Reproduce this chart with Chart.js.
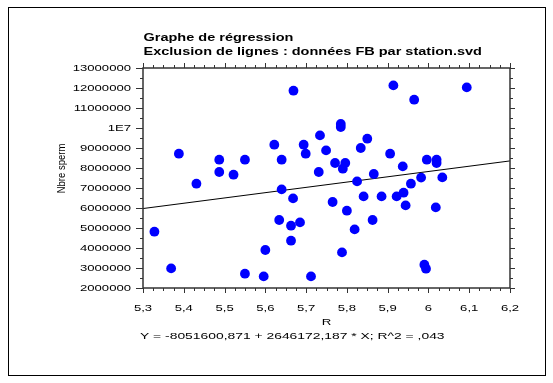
<!DOCTYPE html>
<html><head><meta charset="utf-8">
<script src="https://cdn.jsdelivr.net/npm/chart.js@4/dist/chart.umd.min.js"></script>
<style>html,body{margin:0;padding:0;background:#fff;}canvas{display:block;}</style>
</head><body>
<canvas id="c" width="553" height="383"></canvas>
<script>
const rValues = [5.328,5.369,5.388,5.431,5.487,5.487,5.522,5.550,5.550,5.596,5.600,5.622,5.634,5.640,5.640,5.663,5.663,5.668,5.669,5.685,5.694,5.699,5.712,5.731,5.734,5.749,5.765,5.771,5.785,5.785,5.788,5.790,5.796,5.800,5.819,5.825,5.834,5.841,5.850,5.863,5.866,5.885,5.906,5.914,5.922,5.937,5.939,5.944,5.957,5.965,5.982,5.990,5.994,5.996,6.018,6.020,6.020,6.034,6.094];
const spermValues = [4815000,2980000,8715000,7215000,8415000,7800000,7665000,8415000,2715000,2580000,3900000,9165000,5400000,8415000,6930000,5115000,4365000,6480000,11865000,5280000,9165000,8715000,2580000,7800000,9630000,8880000,6300000,8250000,10200000,10050000,3780000,7965000,8250000,5865000,4930000,7330000,9000000,6580000,9465000,5400000,7700000,6580000,8715000,12130000,6580000,8080000,6765000,6130000,7215000,11415000,7520000,3165000,2965000,8415000,6030000,8415000,8250000,7530000,12030000];
const lineR = [5.3, 6.2];
const lineSperm = [5973112, 8354667];
const xTickValues = [5.3,5.4,5.5,5.6,5.7,5.8,5.9,6.0,6.1,6.2];
const xTickLabels = ['5,3','5,4','5,5','5,6','5,7','5,8','5,9','6','6,1','6,2'];
const yTickValues = [2000000,3000000,4000000,5000000,6000000,7000000,8000000,9000000,10000000,11000000,12000000,13000000];
const yTickLabels = ['2000000','3000000','4000000','5000000','6000000','7000000','8000000','9000000','1E7','11000000','12000000','13000000'];
const titleLines = ['Graphe de régression', 'Exclusion de lignes : données FB par station.svd'];
const xAxisTitle = 'R';
const yAxisTitle = 'Nbre sperm';
const equationText = 'Y = -8051600,871 + 2646172,187 * X; R^2 = ,043';

const FAM = "'Liberation Sans', Arial, sans-serif";

function stretchText(ctx, text, x, y, font, sx, align) {
  ctx.save();
  ctx.font = font;
  ctx.textBaseline = 'alphabetic';
  ctx.textAlign = 'left';
  const w = ctx.measureText(text).width * sx;
  const left = align === 'right' ? x - w : (align === 'center' ? x - w / 2 : x);
  ctx.translate(left, y);
  ctx.scale(sx, 1);
  ctx.fillStyle = '#000';
  ctx.fillText(text, 0, 0);
  ctx.restore();
}

const decor = {
  id: 'decor',
  afterDraw(chart) {
    const ctx = chart.ctx;
    const a = chart.chartArea;
    const xs = chart.scales.x, ys = chart.scales.y;
    ctx.save();
    // outer border
    ctx.strokeStyle = '#000';
    ctx.lineWidth = 1;
    ctx.strokeRect(8.5, 7.5, 537, 368);
    // frame
    ctx.strokeStyle = '#333';
    ctx.lineWidth = 1.5;
    ctx.strokeRect(a.left, a.top, a.right - a.left, a.bottom - a.top);
    // ticks
    ctx.lineWidth = 1;
    ctx.beginPath();
    for (let i = 0; i <= 36; i++) {
      const v = 5.3 + i * 0.025;
      const px = Math.round(xs.getPixelForValue(v)) + 0.5;
      const len = (i % 4 === 0) ? 5 : 3;
      ctx.moveTo(px, a.bottom); ctx.lineTo(px, a.bottom + len);
      ctx.moveTo(px, a.top); ctx.lineTo(px, a.top - len);
    }
    for (let i = 0; i <= 22; i++) {
      const v = 2000000 + i * 500000;
      const py = Math.round(ys.getPixelForValue(v)) + 0.5;
      const major = i % 2 === 0;
      ctx.moveTo(a.left, py); ctx.lineTo(a.left - (major ? 7 : 3), py);
      ctx.moveTo(a.right, py); ctx.lineTo(a.right + (major ? 5 : 3), py);
    }
    ctx.stroke();
    // tick labels
    const tf = '9.5px ' + FAM;
    xTickValues.forEach((v, i) => {
      stretchText(ctx, xTickLabels[i], xs.getPixelForValue(v), 310.5, tf, 1.38, 'center');
    });
    yTickValues.forEach((v, i) => {
      stretchText(ctx, yTickLabels[i], 131, ys.getPixelForValue(v) + 3.4, tf, 1.38, 'right');
    });
    // titles
    const bf = 'bold 10px ' + FAM;
    stretchText(ctx, titleLines[0], 143.5, 41, bf, 1.45, 'left');
    stretchText(ctx, titleLines[1], 143.5, 54.5, bf, 1.45, 'left');
    stretchText(ctx, xAxisTitle, (a.left + a.right) / 2, 325, '9.5px ' + FAM, 1.4, 'center');
    stretchText(ctx, equationText, 140, 339, '9.5px ' + FAM, 1.46, 'left');
    // y axis title rotated
    ctx.save();
    ctx.translate(64.5, 168.5);
    ctx.rotate(-Math.PI / 2);
    ctx.scale(1, 1.2);
    ctx.font = '9.5px ' + FAM;
    ctx.textAlign = 'center';
    ctx.textBaseline = 'alphabetic';
    ctx.fillStyle = '#000';
    ctx.fillText(yAxisTitle, 0, 0);
    ctx.restore();
    ctx.restore();
  }
};

const points = rValues.map((r, i) => ({x: r, y: spermValues[i]}));
const linePts = lineR.map((r, i) => ({x: r, y: lineSperm[i]}));

new Chart(document.getElementById('c'), {
  type: 'scatter',
  data: {
    datasets: [
      {
        type: 'line',
        data: linePts,
        borderColor: '#000',
        borderWidth: 1,
        pointRadius: 0,
        fill: false,
        order: 2
      },
      {
        data: points,
        backgroundColor: '#0000ff',
        borderColor: '#0000ff',
        borderWidth: 0,
        pointRadius: 4.9,
        pointHoverRadius: 4.9,
        order: 1
      }
    ]
  },
  options: {
    responsive: false,
    animation: false,
    devicePixelRatio: 1,
    layout: {padding: {left: 143, right: 43, top: 68, bottom: 95}},
    plugins: {legend: {display: false}, tooltip: {enabled: false}, title: {display: false}},
    scales: {
      x: {type: 'linear', display: false, min: 5.3, max: 6.2},
      y: {type: 'linear', display: false, min: 2000000, max: 13000000}
    }
  },
  plugins: [decor]
});
</script>
</body></html>
